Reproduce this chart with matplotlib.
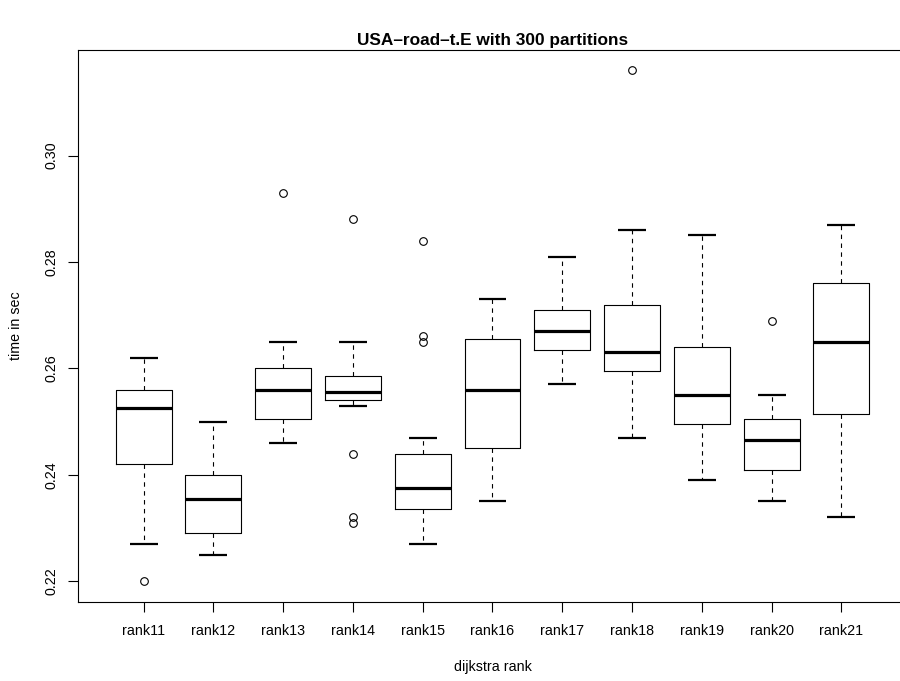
import matplotlib
matplotlib.use("Agg")
import matplotlib.pyplot as plt

plt.rcParams['font.family'] = ['Liberation Sans', 'DejaVu Sans']

categories = ["rank11", "rank12", "rank13", "rank14", "rank15", "rank16",
              "rank17", "rank18", "rank19", "rank20", "rank21"]
whisker_low = [0.227, 0.225, 0.246, 0.253, 0.227, 0.235, 0.257, 0.247, 0.239, 0.235, 0.232]
q1 =          [0.242, 0.229, 0.2505, 0.254, 0.2335, 0.245, 0.2635, 0.2595, 0.2495, 0.241, 0.2515]
medians =     [0.2525, 0.2355, 0.256, 0.2555, 0.2375, 0.256, 0.267, 0.263, 0.255, 0.2465, 0.265]
q3 =          [0.256, 0.240, 0.260, 0.2585, 0.244, 0.2655, 0.271, 0.272, 0.264, 0.2505, 0.276]
whisker_high = [0.262, 0.250, 0.265, 0.265, 0.247, 0.273, 0.281, 0.286, 0.285, 0.255, 0.287]
outliers = [[0.220], [], [0.293], [0.288, 0.244, 0.232, 0.231], [0.284, 0.266, 0.265],
            [], [], [0.316], [], [0.269], []]
yticks = [0.22, 0.24, 0.26, 0.28, 0.30]
ytick_labels = ["0.22", "0.24", "0.26", "0.28", "0.30"]

title = "USA\u2013road\u2013t.E with 300 partitions"
xlabel = "dijkstra rank"
ylabel = "time in sec"

W, H = 900, 681
fig = plt.figure(figsize=(W / 100, H / 100), dpi=100)
left, right, top, bottom = 78, 907, 50, 601.7
ax = fig.add_axes([left / W, 1 - bottom / H, (right - left) / W, (bottom - top) / H])

stats = []
for i, name in enumerate(categories):
    stats.append(dict(label=name, whislo=whisker_low[i], q1=q1[i], med=medians[i],
                      q3=q3[i], whishi=whisker_high[i], fliers=outliers[i]))

positions = list(range(1, len(categories) + 1))
ax.bxp(stats, positions=positions, widths=0.8, capwidths=0.4,
       boxprops=dict(color='black', linewidth=0.8),
       medianprops=dict(color='black', linewidth=2.3, solid_capstyle='butt'),
       whiskerprops=dict(color='black', linewidth=0.8, linestyle=(0, (4, 4))),
       capprops=dict(color='black', linewidth=1.6, solid_capstyle='butt'),
       flierprops=dict(marker='o', markerfacecolor='none', markeredgecolor='black',
                       markersize=5.5, markeredgewidth=0.8, linestyle='none'),
       showfliers=True, manage_ticks=False)

ax.set_xlim(0.06, 11.94)
ax.set_ylim(0.21616, 0.31984)
ax.set_xticks(positions)
ax.set_xticklabels(categories, fontsize=10.3)
ax.set_yticks(yticks)
ax.set_yticklabels(ytick_labels, fontsize=10.3, rotation=90, va='center')
ax.tick_params(axis='both', direction='out', length=7, width=0.8, color='black')
ax.tick_params(axis='x', pad=9)
ax.tick_params(axis='y', pad=7)
for s in ax.spines.values():
    s.set_linewidth(0.8)
    s.set_color('black')

fig.text((left + right) / 2 / W, 1 - 41 / H, title, ha='center', va='center',
         fontsize=12.4, fontweight='bold')
fig.text((left + right) / 2 / W, 1 - 667 / H, xlabel, ha='center', va='center', fontsize=10.3)
fig.text(16 / W, 1 - ((top + bottom) / 2) / H, ylabel, ha='center', va='center',
         rotation=90, fontsize=10.3)

fig.savefig("out.png", dpi=100)
